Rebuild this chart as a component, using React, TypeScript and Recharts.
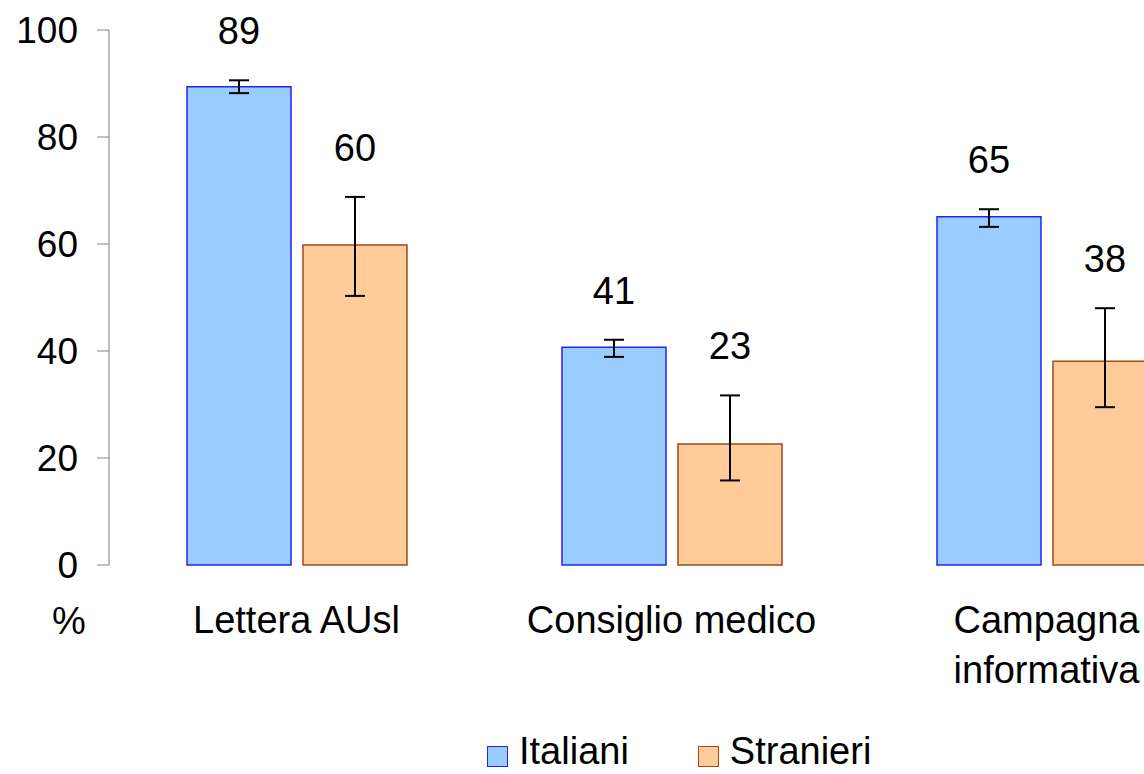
import { Bar, BarChart, ErrorBar, LabelList, Legend, XAxis, YAxis } from "recharts"

const categories = ["Lettera AUsl", "Consiglio medico", "Campagna\ninformativa"]
const seriesNames = ["Italiani", "Stranieri"]
const italiani = [89.4, 40.7, 65.1]
const stranieri = [59.8, 22.6, 38.1]
// confidence intervals [low, high]
const italianiCI = [[88.2, 90.6], [38.9, 42.1], [63.2, 66.5]]
const stranieriCI = [[50.3, 68.8], [15.8, 31.7], [29.5, 48.0]]
const yTicks = [0, 20, 40, 60, 80, 100]

const fills = ["#99CCFF", "#FFCC99"]
const strokes = ["#2222FF", "#A04A14"]
const font = "'Liberation Sans', Arial, sans-serif"

const rows = categories.map((name, i) => ({
  name,
  italiani: italiani[i],
  stranieri: stranieri[i],
  italianiErr: [italiani[i] - italianiCI[i][0], italianiCI[i][1] - italiani[i]],
  stranieriErr: [stranieri[i] - stranieriCI[i][0], stranieriCI[i][1] - stranieri[i]],
}))

// value label sits a fixed distance above the top of the error bar
const valueLabel = (values: number[], ci: number[][]) => (props: any) => {
  const vb = props.viewBox ?? props
  const { x, y, width, height } = vb
  const i = props.index
  const v = values[i]
  const ppu = height / v
  const errTop = y - (ci[i][1] - v) * ppu
  return (
    <text
      x={x + width / 2}
      y={errTop - 49}
      textAnchor="middle"
      dominantBaseline="central"
      fontSize={38}
      fontFamily={font}
      fill="#000"
    >
      {Math.round(v)}
    </text>
  )
}

const CategoryTick = (props: any) => {
  const { x, y, payload } = props
  const lines = String(payload.value).split("\n")
  return (
    <text x={x} y={y} textAnchor="middle" fontSize={38} fontFamily={font} fill="#000">
      {lines.map((line, i) => (
        <tspan key={i} x={x} dy={i === 0 ? 27 : 50}>
          {line}
        </tspan>
      ))}
    </text>
  )
}

const percentLabel = (props: any) => {
  const { x, y, width, height } = props.viewBox
  return (
    <text x={x + width - 40} y={y + height + 69} textAnchor="middle" fontSize={38} fontFamily={font} fill="#000">
      %
    </text>
  )
}

const renderLegend = () => (
  <div style={{ display: "flex", alignItems: "center", fontFamily: font, fontSize: 38, lineHeight: "30px", color: "#000" }}>
    {seriesNames.map((name, i) => (
      <div key={name} style={{ display: "flex", alignItems: "center", marginRight: i === 0 ? 69 : 0 }}>
        <span
          style={{
            display: "inline-block",
            position: "relative",
            top: 5,
            width: 19,
            height: 19,
            background: fills[i],
            border: `1.5px solid ${strokes[i]}`,
            marginRight: 11,
          }}
        />
        <span>{name}</span>
      </div>
    ))}
  </div>
)

export default function App() {
  return (
    <div style={{ position: "fixed", left: 0, top: 0, width: 1144, height: 774, overflow: "hidden", background: "#fff" }}>
      <BarChart
        width={1250}
        height={774}
        data={rows}
        margin={{ top: 30, right: 16, left: 0, bottom: 109 }}
        barSize={104}
        barGap={12}
      >
        <XAxis
          dataKey="name"
          axisLine={false}
          tickLine={false}
          tickSize={0}
          tickMargin={41}
          height={100}
          interval={0}
          tick={<CategoryTick />}
        />
        <YAxis
          domain={[0, 100]}
          ticks={yTicks}
          width={109}
          stroke="#808080"
          tickSize={12}
          tickMargin={19}
          tick={{ fill: "#000", fontSize: 37, fontFamily: font }}
          label={percentLabel}
        />
        <Legend
          layout="horizontal"
          verticalAlign="middle"
          align="center"
          content={renderLegend}
          wrapperStyle={{ top: 736, left: 487, width: "auto" }}
        />
        <Bar dataKey="italiani" name={seriesNames[0]} fill={fills[0]} stroke={strokes[0]} strokeWidth={1.5} isAnimationActive={false}>
          <ErrorBar dataKey="italianiErr" width={10} stroke="#000" strokeWidth={2} />
          <LabelList dataKey="italiani" content={valueLabel(italiani, italianiCI)} />
        </Bar>
        <Bar dataKey="stranieri" name={seriesNames[1]} fill={fills[1]} stroke={strokes[1]} strokeWidth={1.5} isAnimationActive={false}>
          <ErrorBar dataKey="stranieriErr" width={10} stroke="#000" strokeWidth={2} />
          <LabelList dataKey="stranieri" content={valueLabel(stranieri, stranieriCI)} />
        </Bar>
      </BarChart>
    </div>
  )
}
